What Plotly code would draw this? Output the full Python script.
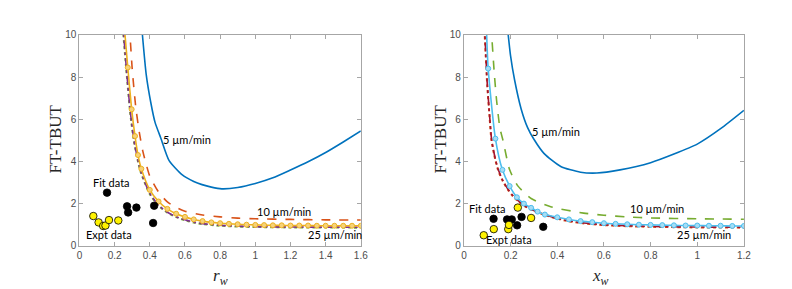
import plotly.graph_objects as go

# ---------------- Left panel data (r_w) ----------------
L5_x = [0.355, 0.38, 0.406, 0.43, 0.463, 0.51, 0.585, 0.65, 0.697, 0.75, 0.809, 0.9, 1.0, 1.1, 1.2, 1.3, 1.4, 1.5, 1.6]
L5_y = [10.3, 8.1, 6.78, 5.85, 5.1, 4.04, 3.36, 3.05, 2.9, 2.78, 2.7, 2.76, 2.95, 3.22, 3.59, 3.98, 4.42, 4.92, 5.44]

L10_x = [0.284, 0.3, 0.32, 0.34, 0.36, 0.38, 0.4, 0.45, 0.5, 0.55, 0.6, 0.7, 0.8, 0.9, 1.0, 1.2, 1.4, 1.6]
L10_y = [10.5, 8.4, 6.6, 5.4, 4.5, 3.85, 3.3, 2.55, 2.08, 1.82, 1.64, 1.46, 1.37, 1.31, 1.28, 1.25, 1.23, 1.22]

L25o_x = [0.253, 0.275, 0.297, 0.316, 0.333, 0.352, 0.4, 0.45, 0.5, 0.55, 0.6, 0.65, 0.7, 0.75, 0.8, 0.85,
          0.9, 0.95, 1.0, 1.05, 1.1, 1.15, 1.2, 1.25, 1.3, 1.35, 1.4, 1.45, 1.5, 1.55, 1.6]
L25o_y = [10.6, 8.45, 6.47, 5.2, 4.3, 3.65, 2.65, 2.1, 1.75, 1.52, 1.37, 1.25, 1.17, 1.11, 1.07, 1.04,
          1.02, 1.0, 0.99, 0.98, 0.97, 0.97, 0.96, 0.96, 0.96, 0.95, 0.95, 0.95, 0.95, 0.95, 0.95]

L25g_x = [0.244, 0.27, 0.29, 0.31, 0.33, 0.35, 0.4, 0.45, 0.5, 0.55, 0.6, 0.65, 0.7, 0.8, 0.9, 1.0, 1.2, 1.4, 1.6]
L25g_y = [10.6, 8.0, 6.2, 4.95, 4.1, 3.45, 2.45, 1.9, 1.57, 1.36, 1.21, 1.1, 1.03, 0.95, 0.91, 0.89, 0.87, 0.865, 0.86]

L25p_x = [0.246, 0.27, 0.29, 0.31, 0.33, 0.35, 0.4, 0.45, 0.5, 0.55, 0.6, 0.65, 0.7, 0.8, 0.9, 1.0, 1.2, 1.4, 1.6]
L25p_y = [10.6, 8.1, 6.3, 5.0, 4.15, 3.5, 2.48, 1.93, 1.59, 1.38, 1.23, 1.12, 1.05, 0.97, 0.93, 0.91, 0.89, 0.885, 0.88]

Lfit_x = [0.157, 0.271, 0.277, 0.324, 0.425, 0.419]
Lfit_y = [2.52, 1.87, 1.58, 1.81, 1.9, 1.08]
Lexp_x = [0.079, 0.109, 0.135, 0.148, 0.168, 0.221]
Lexp_y = [1.41, 1.11, 0.94, 0.96, 1.22, 1.2]

# ---------------- Right panel data (x_w) ----------------
R5_x = [0.187, 0.2, 0.217, 0.245, 0.273, 0.3, 0.344, 0.415, 0.5, 0.57, 0.669, 0.8, 0.9, 1.0, 1.1, 1.2]
R5_y = [10.3, 9.0, 7.87, 6.5, 5.6, 5.05, 4.37, 3.76, 3.49, 3.45, 3.6, 3.94, 4.35, 4.82, 5.55, 6.42]

R10_x = [0.116, 0.13, 0.14, 0.154, 0.168, 0.196, 0.231, 0.288, 0.372, 0.513, 0.6, 0.7, 0.8, 1.0, 1.2]
R10_y = [10.5, 8.2, 6.9, 5.6, 4.97, 3.6, 2.84, 2.24, 1.85, 1.55, 1.45, 1.37, 1.32, 1.28, 1.26]

R25b_x = [0.096, 0.104, 0.135, 0.165, 0.196, 0.227, 0.257, 0.288, 0.316, 0.347, 0.4, 0.45, 0.5, 0.55, 0.6,
          0.65, 0.7, 0.75, 0.8, 0.85, 0.9, 0.95, 1.0, 1.05, 1.1, 1.15, 1.2]
R25b_y = [10.5, 8.4, 5.08, 3.6, 2.83, 2.3, 2.0, 1.8, 1.62, 1.48, 1.35, 1.25, 1.17, 1.12, 1.07,
          1.04, 1.02, 1.0, 0.99, 0.98, 0.97, 0.96, 0.96, 0.95, 0.95, 0.94, 0.94]

R25r_x = [0.087, 0.1, 0.11, 0.118, 0.13, 0.146, 0.165, 0.189, 0.21, 0.231, 0.26, 0.3, 0.35, 0.4, 0.45,
          0.5, 0.6, 0.7, 0.8, 1.0, 1.2]
R25r_y = [10.5, 7.6, 6.1, 5.0, 4.3, 3.6, 3.1, 2.65, 2.35, 2.12, 1.88, 1.65, 1.45, 1.28, 1.16,
          1.08, 0.98, 0.93, 0.9, 0.87, 0.86]

R25d_x = [0.088, 0.1, 0.11, 0.118, 0.13, 0.146, 0.165, 0.189, 0.21, 0.231, 0.26, 0.3, 0.35, 0.4, 0.45,
          0.5, 0.6, 0.7, 0.8, 1.0, 1.2]
R25d_y = [10.5, 7.7, 6.2, 5.1, 4.35, 3.65, 3.14, 2.68, 2.38, 2.15, 1.9, 1.67, 1.47, 1.3, 1.18,
          1.1, 1.0, 0.95, 0.92, 0.89, 0.88]

Rfit_x = [0.127, 0.185, 0.205, 0.247, 0.228, 0.34]
Rfit_y = [1.28, 1.25, 1.25, 1.37, 0.97, 0.9]
Rexp_x = [0.085, 0.128, 0.19, 0.193, 0.231, 0.288]
Rexp_y = [0.5, 0.79, 0.79, 0.99, 1.81, 1.32]

xticks_L = [0, 0.2, 0.4, 0.6, 0.8, 1, 1.2, 1.4, 1.6]
xticks_R = [0, 0.2, 0.4, 0.6, 0.8, 1, 1.2]
yticks = [0, 2, 4, 6, 8, 10]

BLUE = "#0072BD"; RED = "#D95319"; ORANGE = "#EDB120"; PURPLE = "#7E2F8E"
GREEN = "#77AC30"; LBLUE = "#4DBEEE"; DRED = "#A2142F"

fig = go.Figure()

def line(x, y, color, dash="solid", xa="x", ya="y", width=1.6):
    fig.add_trace(go.Scatter(x=x, y=y, mode="lines", xaxis=xa, yaxis=ya,
                             line=dict(color=color, width=width, dash=dash, shape="spline", smoothing=0.6),
                             showlegend=False, hoverinfo="skip"))

def mline(x, y, color, fill, xa="x", ya="y"):
    fig.add_trace(go.Scatter(x=x, y=y, mode="lines+markers", xaxis=xa, yaxis=ya,
                             line=dict(color=color, width=1.6, shape="spline", smoothing=0.6),
                             marker=dict(size=5, color=fill, line=dict(color=color, width=1)),
                             showlegend=False, hoverinfo="skip"))

def pts(x, y, fill, xa="x", ya="y"):
    fig.add_trace(go.Scatter(x=x, y=y, mode="markers", xaxis=xa, yaxis=ya,
                             marker=dict(size=7.5, color=fill, line=dict(color="black", width=0.8)),
                             showlegend=False, hoverinfo="skip"))

# Left
line(L5_x, L5_y, BLUE)
line(L10_x, L10_y, RED, "dash")
line(L25g_x, L25g_y, GREEN, "dot", width=2)
line(L25p_x, L25p_y, PURPLE, "dashdot")
mline(L25o_x, L25o_y, ORANGE, "#F6D27A")
pts(Lfit_x, Lfit_y, "black")
pts(Lexp_x, Lexp_y, "#FFF200")

# Right
line(R5_x, R5_y, BLUE, xa="x2", ya="y2")
line(R10_x, R10_y, GREEN, "dash", xa="x2", ya="y2")
line(R25r_x, R25r_y, RED, "dot", xa="x2", ya="y2", width=2)
line(R25d_x, R25d_y, DRED, "dashdot", xa="x2", ya="y2")
mline(R25b_x, R25b_y, LBLUE, "#A6DDF5", xa="x2", ya="y2")
pts(Rfit_x, Rfit_y, "black", xa="x2", ya="y2")
pts(Rexp_x, Rexp_y, "#FFF200", xa="x2", ya="y2")

FRAME = "#A6A6A6"
TICKF = dict(family="Liberation Sans, Arial", size=10, color="#4D4D4D")
common = dict(showline=True, linecolor=FRAME, linewidth=1, mirror="ticks", ticks="inside",
              ticklen=4, tickcolor=FRAME, showgrid=False, zeroline=False, tickfont=TICKF)

ydom = [1 - 242 / 289, 1 - 22.7 / 289]
fig.update_layout(
    width=792, height=289, margin=dict(l=0, r=0, t=0, b=0),
    paper_bgcolor="white", plot_bgcolor="white",
    xaxis=dict(domain=[69.3 / 792, 354.3 / 792], range=[0, 1.6], anchor="y",
               tickvals=xticks_L, ticktext=[f"{v:g}" for v in xticks_L], **common),
    yaxis=dict(domain=ydom, range=[0, 10], anchor="x", tickvals=yticks, **common),
    xaxis2=dict(domain=[458.7 / 792, 742.3 / 792], range=[0, 1.2], anchor="y2",
                tickvals=xticks_R, ticktext=[f"{v:g}" for v in xticks_R], **common),
    yaxis2=dict(domain=ydom, range=[0, 10], anchor="x2", tickvals=yticks, **common),
)

AF = dict(family="Lato, Open Sans, sans-serif", size=11, color="black")
notes = [
    ("x", "y", 0.612, 5.06, "5 µm/min"),
    ("x", "y", 1.165, 1.61, "10 µm/min"),
    ("x", "y", 1.454, 0.52, "25 µm/min"),
    ("x", "y", 0.185, 3.02, "Fit data"),
    ("x", "y", 0.167, 0.52, "Expt data"),
    ("x2", "y2", 0.394, 5.43, "5 µm/min"),
    ("x2", "y2", 0.828, 1.75, "10 µm/min"),
    ("x2", "y2", 1.031, 0.53, "25 µm/min"),
    ("x2", "y2", 0.10, 1.75, "Fit data"),
    ("x2", "y2", 0.192, 0.29, "Expt data"),
]
for xr, yr, xv, yv, t in notes:
    fig.add_annotation(x=xv, y=yv, xref=xr, yref=yr, text=t, showarrow=False, font=AF,
                       xanchor="center", yanchor="middle")

SERIF = dict(family="Liberation Serif, Times New Roman, serif", size=17, color="#262626")
fig.add_annotation(x=45 / 792, y=1 - 131 / 289, xref="paper", yref="paper", text="FT-TBUT",
                   textangle=-90, showarrow=False, font=SERIF, xanchor="center", yanchor="middle")
fig.add_annotation(x=435 / 792, y=1 - 131 / 289, xref="paper", yref="paper", text="FT-TBUT",
                   textangle=-90, showarrow=False, font=SERIF, xanchor="center", yanchor="middle")
fig.add_annotation(x=211.7 / 792, y=1 - 261 / 289, xref="paper", yref="paper",
                   text="<i>r</i><sub><i>w</i></sub>", showarrow=False, font=SERIF,
                   xanchor="center", yanchor="top")
fig.add_annotation(x=596.7 / 792, y=1 - 261 / 289, xref="paper", yref="paper",
                   text="<i>x</i><sub><i>w</i></sub>", showarrow=False, font=SERIF,
                   xanchor="center", yanchor="top")

fig.write_html("out.html")
